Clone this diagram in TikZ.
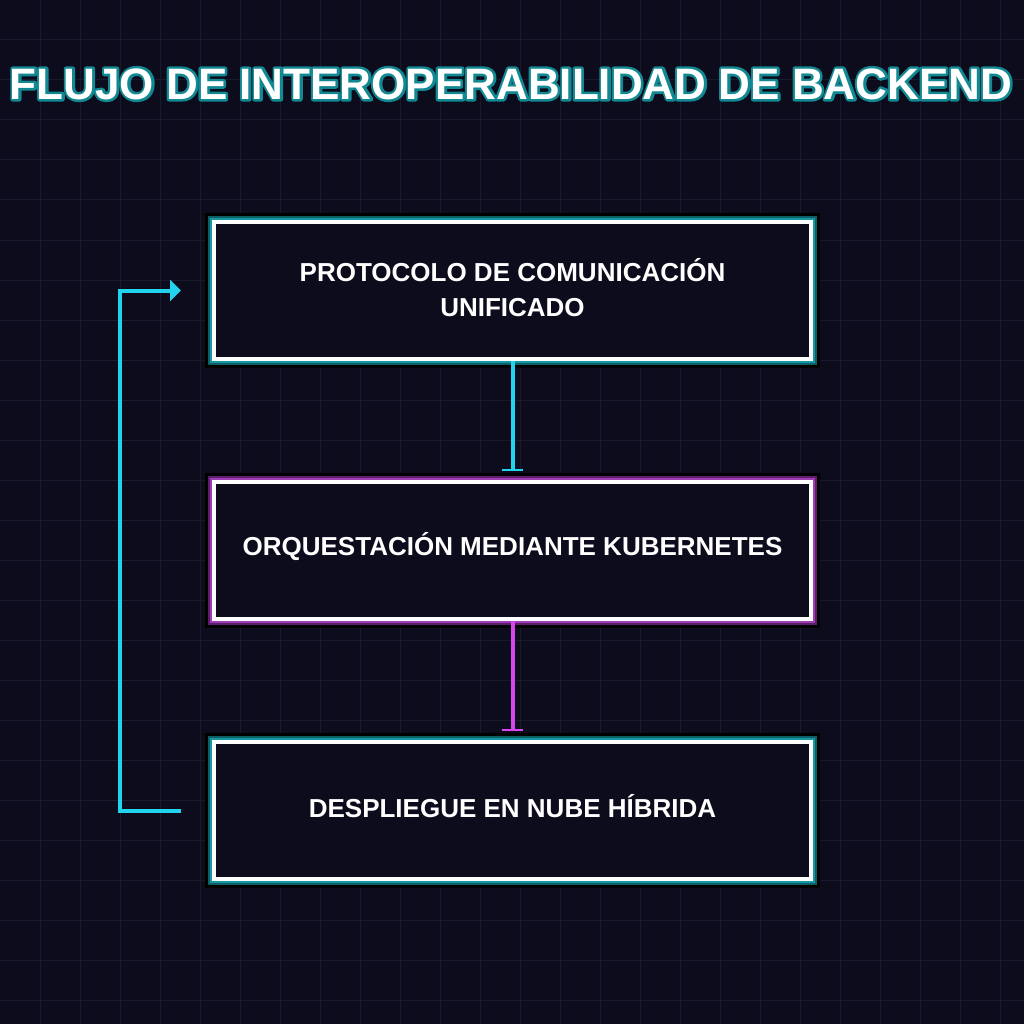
\documentclass[tikz,border=0pt]{standalone}
\usepackage{fontspec}
\setmainfont{Liberation Sans}
\usetikzlibrary{arrows.meta,calc}
\definecolor{bg}{HTML}{0C0C1C}
\definecolor{gridc}{HTML}{1A1A2E}
\definecolor{cyanA}{HTML}{22D3EE}
\definecolor{magA}{HTML}{D946EF}
\definecolor{tealD}{HTML}{0E5E66}
\definecolor{tealM}{HTML}{1699A6}
\definecolor{tealT}{HTML}{128892}
\definecolor{magD}{HTML}{5A1E6A}
\definecolor{magM}{HTML}{A03CB6}
\newcommand{\glowon}{\special{pdf:literal direct 2 Tr 5 w 1 j}}
\newcommand{\glowoff}{\special{pdf:literal direct 0 Tr}}
\tikzset{
  flowbox/.style={preaction={draw=black,line width=18pt},
    preaction={draw=tealD,line width=12pt},
    preaction={draw=tealM,line width=8pt},
    fill=bg, draw=white, line width=4pt, minimum width=597pt, minimum height=137pt,
    inner sep=0pt},
  flowboxm/.style={preaction={draw=black,line width=18pt},
    preaction={draw=magD,line width=12pt},
    preaction={draw=magM,line width=8pt},
    fill=bg, draw=white, line width=4pt, minimum width=597pt, minimum height=137pt,
    inner sep=0pt},
  boxlabel/.style={align=center, text=white, inner sep=0pt,
    font=\bfseries\fontsize{26}{35}\selectfont},
  titletxt/.style={font=\bfseries\fontsize{44}{50}\selectfont, inner sep=0pt},
  cyanline/.style={draw=cyanA, line width=4pt},
  magline/.style={draw=magA, line width=4pt},
}
\begin{document}
\begin{tikzpicture}[x=1pt,y=-1pt]
\fill[bg] (0,0) rectangle (1024,1024);
\useasboundingbox (0,0) rectangle (1024,1024);
\foreach \i in {40,80,...,1000} {
  \draw[gridc, line width=1pt] (\i,0) -- (\i,1024);
  \draw[gridc, line width=1pt] (0,\i) -- (1024,\i);
}
% title with glow outline
\node[titletxt, text=tealT] (titleglow) at (511,84) {\glowon FLUJO DE INTEROPERABILIDAD DE BACKEND\glowoff};
\node[titletxt, text=white] (title) at (511,84) {FLUJO DE INTEROPERABILIDAD DE BACKEND};

\node[flowbox] (p1) at (512.5,290.5) {};
\node[flowboxm] (p2) at (512.5,550.5) {};
\node[flowbox] (p3) at (512.5,810.5) {};
\node[boxlabel] (l1) at ([yshift=3pt]p1.center) {PROTOCOLO DE COMUNICACIÓN\\UNIFICADO};
\node[boxlabel] (l2) at ([yshift=4pt]p2.center) {ORQUESTACIÓN MEDIANTE KUBERNETES};
\node[boxlabel] (l3) at ([yshift=4pt]p3.center) {DESPLIEGUE EN NUBE HÍBRIDA};

\draw[cyanline, -{Bar[width=21pt,line width=2pt]}, shorten >=9pt] (p1.south) -- (p2.north);
\draw[magline, -{Bar[width=21pt,line width=2pt]}, shorten >=9pt] (p2.south) -- (p3.north);

\coordinate (fbout) at (181,810.5);
\coordinate (fbin) at (181,290.5);
\draw[cyanline, -{Triangle[length=11pt,width=21pt]}] (fbout) -- ++(-61,0) |- (fbin);
\end{tikzpicture}
\end{document}
